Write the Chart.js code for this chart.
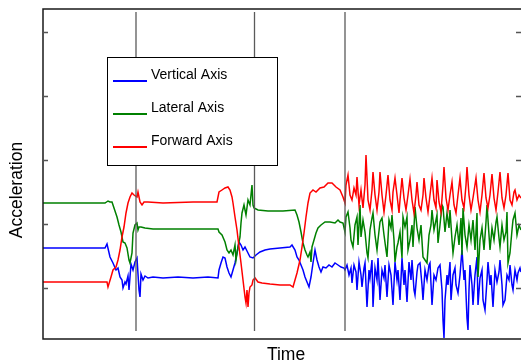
<!DOCTYPE html>
<html><head><meta charset="utf-8">
<script src="https://cdn.jsdelivr.net/npm/chart.js@4/dist/chart.umd.min.js"></script>
<style>html,body{margin:0;padding:0;background:#fff;overflow:hidden}#wrap{position:relative;width:521px;height:364px}</style>
</head><body><div id="wrap"><canvas id="c" width="521" height="364"></canvas></div>
<script>
// ---- data (time in samples, acceleration in raw counts) ----
const seriesNames = ['Vertical Axis', 'Lateral Axis', 'Forward Axis'];
const seriesColors = ['#0000ff', '#008000', '#ff0000'];
const xTitle = 'Time';
const yTitle = 'Acceleration';
const yTickValues = [64, 128, 192, 256, 320];
const eventTimes = [93, 211.5, 302];
const eventRange = [21, 340];

const verticalT = [0,30,62,64,67,70,73,75,77,79,80,82,83,85,86,88,90,92,94,96,97,98,100,102,105,110,120,135,150,165,175,176,178,180,182,184,186,188,190,192,194,196,198,200,202,205,207,210,213,217,222,227,237,247,249,252,254,256,258,260,262,264,266,268,270,272,274,276,278,280,283,286,289,292,295,298,301,
302,304,306,308,309,311,313,314,316,318,319,321,322,324,326,327,329,330,332,334,335,337,339,341,342,344,346,348,350,352,354,355,357,359,361,362,364,366,368,369,371,372,374,375,377,379,380,382,384,386,387,389,391,393,395,397,399,400,401,402,404,405,407,408,410,412,413,415,417,418,419,421,422,424,425,426,427,429,430,432,434,435,437,439,440,442,444,445,447,448,450,452,454,456,457,459,460,462,464,466,467,469,470,472,474,475,477,478];
const verticalV = [104,104,104,108,95,89,82,84,75,72,64,70,68,76,62,88,82,90,94,62,55,78,72,76,74,75,74,75,74,75,74,82,89,95,94,85,79,75,82,89,99,110,107,102,105,99,95,94,97,100,102,103,104,105,107,102,95,92,87,82,75,70,65,75,89,102,92,85,80,85,84,87,85,89,87,85,84,
82,87,77,84,69,87,80,62,90,77,65,84,89,45,82,74,92,45,84,72,94,52,82,74,87,55,87,77,47,90,72,82,52,94,67,82,50,90,72,92,62,57,80,87,89,67,52,82,72,87,89,47,77,72,84,87,62,32,14,52,77,67,90,52,77,84,67,59,77,90,102,72,82,34,22,62,87,67,47,77,95,47,74,82,52,42,72,90,67,77,45,82,70,80,92,67,47,52,77,72,87,67,62,82,72,79,84,80];

const lateralT = [0,30,62,65,67,69,71,74,76,78,80,82,84,86,87,89,90,92,94,95,96,98,102,110,140,175,176,179,182,184,186,188,190,192,193,195,197,198,199,201,203,205,207,209,210,211,215,225,240,252,254,256,258,260,262,264,265,267,268,269,271,273,275,278,282,287,292,295,297,300,
302,303,305,307,308,310,312,314,315,317,318,320,322,324,325,327,329,330,332,334,335,337,339,341,343,344,346,348,349,351,352,354,355,357,359,360,362,364,365,367,369,370,372,374,376,378,380,382,384,386,388,389,391,393,394,395,397,399,400,402,404,406,407,409,410,412,414,416,418,419,420,422,424,426,428,430,432,434,435,437,439,441,443,444,446,447,449,451,453,454,456,457,459,461,463,464,465,467,469,470,472,474,476,478];
const lateralV = [149,149,149,151,150,150,144,135,127,120,110,109,104,92,89,99,119,127,129,122,125,125,124,123,123,123,120,117,110,102,99,102,97,107,92,105,115,129,139,147,137,152,147,167,147,144,142,141,141,142,137,130,120,109,102,97,95,100,90,105,112,119,124,127,130,130,129,132,130,129,
120,135,140,124,112,105,127,135,107,147,115,132,120,99,94,122,134,139,117,102,112,130,134,117,102,95,132,124,137,112,90,105,109,120,94,135,125,135,102,112,127,105,145,124,112,127,95,92,89,117,127,142,122,132,137,109,127,147,145,120,139,124,142,112,99,115,127,107,134,97,144,117,105,127,112,132,102,139,75,112,124,102,130,147,117,102,124,112,130,135,114,105,127,112,120,140,89,99,122,132,139,117,127,122];

const forwardT = [0,30,64,65,68,70,73,75,77,79,81,83,85,87,89,91,94,95,97,99,101,105,120,150,174,176,179,182,185,187,189,190,192,194,196,198,200,202,203,204,205,206,207,209,210,212,215,219,227,237,247,250,252,254,257,259,261,263,265,267,270,273,277,281,285,289,293,297,300,
302,303,305,307,309,311,313,314,316,318,320,322,323,325,327,329,330,332,334,336,337,339,341,343,345,347,349,350,352,354,356,357,359,361,363,365,367,369,371,373,374,376,378,380,381,383,385,387,389,391,393,394,396,398,400,401,403,405,407,409,411,413,415,417,419,421,423,424,426,428,430,433,435,437,439,441,443,445,447,449,451,453,455,457,459,461,463,465,467,469,471,472,474,476,478];
const forwardV = [70,70,70,65,75,82,85,92,102,115,125,139,149,155,159,157,155,160,150,147,150,150,149,150,150,160,162,164,165,162,155,149,135,122,105,89,72,55,49,62,45,59,65,67,72,74,70,69,68,67,67,65,72,79,92,105,119,135,149,159,162,160,164,165,169,169,165,162,155,
149,167,177,157,152,164,157,175,147,162,144,167,197,152,142,162,180,157,142,160,180,157,140,157,177,152,142,160,174,157,139,152,174,154,142,157,173,152,139,157,170,147,142,157,174,154,140,157,174,152,144,172,150,140,167,185,154,142,157,170,147,139,157,174,152,144,167,185,157,142,154,174,152,140,157,179,154,144,157,178,154,142,160,180,154,144,157,179,152,147,160,162,152,157,154];

// ---- build datasets ----
function pts(ts, vs) { return ts.map((t, i) => ({x: t, y: vs[i]})); }
const seriesData = [pts(verticalT, verticalV), pts(lateralT, lateralV), pts(forwardT, forwardV)];

const datasets = [];
eventTimes.forEach((t, i) => datasets.push({
  label: 'event' + i, data: [{x: t, y: eventRange[0]}, {x: t, y: eventRange[1]}],
  borderColor: '#5a5a5a', borderWidth: 1.3, pointRadius: 0, order: 0
}));
seriesNames.forEach((name, i) => datasets.push({
  label: name, data: seriesData[i], borderColor: seriesColors[i], borderWidth: 1.5,
  pointRadius: 0, tension: 0, order: 3 - i
}));

const decor = {
  id: 'decor',
  afterDatasetsDraw(chart) {
    const ctx = chart.ctx, a = chart.chartArea, ys = chart.scales.y;
    ctx.save();
    // frame
    ctx.strokeStyle = '#1a1a1a'; ctx.lineWidth = 1.5;
    ctx.beginPath();
    ctx.moveTo(a.right + 1, a.top); ctx.lineTo(a.left, a.top); ctx.lineTo(a.left, a.bottom); ctx.lineTo(a.right + 1, a.bottom);
    ctx.stroke();
    // inward ticks
    ctx.strokeStyle = '#555'; ctx.lineWidth = 1.5;
    yTickValues.forEach(v => {
      const py = Math.round(ys.getPixelForValue(v)) + 0.5;
      ctx.beginPath(); ctx.moveTo(a.left, py); ctx.lineTo(a.left + 5, py);
      ctx.moveTo(a.right, py); ctx.lineTo(a.right - 5, py); ctx.stroke();
    });
    // legend
    const lx = a.left + 64, ly = 57, lw = 170, lh = 108;
    ctx.fillStyle = '#fff'; ctx.fillRect(lx, ly, lw, lh);
    ctx.strokeStyle = '#000'; ctx.lineWidth = 1;
    ctx.strokeRect(lx + 0.5, ly + 0.5, lw, lh);
    ctx.font = '14px "Liberation Sans", Arial, sans-serif';
    ctx.textBaseline = 'alphabetic'; ctx.textAlign = 'left';
    seriesNames.forEach((name, i) => {
      const yLine = 81 + i * 33;
      ctx.strokeStyle = seriesColors[i]; ctx.lineWidth = 2;
      ctx.beginPath(); ctx.moveTo(lx + 6, yLine); ctx.lineTo(lx + 40, yLine); ctx.stroke();
      ctx.fillStyle = '#000';
      ctx.fillText(name, lx + 44, yLine - 2);
    });
    // axis titles
    ctx.font = '17.5px "Liberation Sans", Arial, sans-serif';
    ctx.textAlign = 'center'; ctx.textBaseline = 'middle'; ctx.fillStyle = '#000';
    ctx.fillText(xTitle, 286, 355);
    ctx.translate(17, 190); ctx.rotate(-Math.PI / 2);
    ctx.fillText(yTitle, 0, 0);
    ctx.restore();
  }
};

new Chart(document.getElementById('c'), {
  type: 'line',
  data: {datasets},
  options: {
    responsive: false, animation: false, events: [],
    layout: {padding: {left: 43, top: 9, right: 0, bottom: 25}},
    plugins: {legend: {display: false}, tooltip: {enabled: false}},
    scales: {
      x: {type: 'linear', min: 0, max: 478, display: false},
      y: {type: 'linear', min: 13, max: 343, display: false}
    }
  },
  plugins: [decor]
});
</script></body></html>
